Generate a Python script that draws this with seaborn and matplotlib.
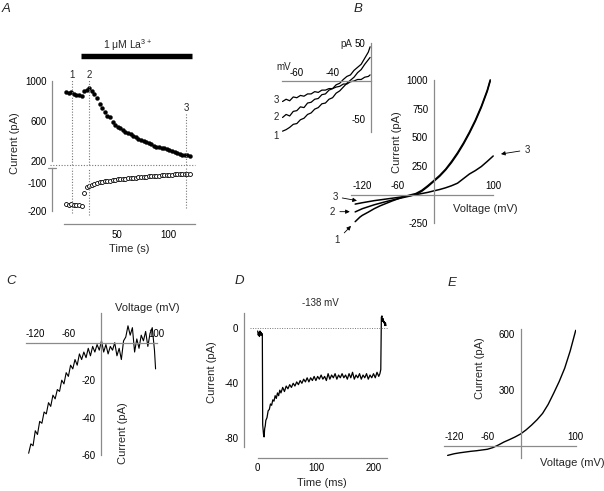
import matplotlib

matplotlib.use("Agg")
import matplotlib.pyplot as plt
import seaborn as sns

W, H = 604, 491
AXIS_GREY = "#8a8a8a"
DOT_GREY = "#777777"

# ---------------- panel A: current at +100 / -120 mV vs time
A_TIME = [1, 3.5, 6, 8.5, 11, 13.5, 16, 18.5, 21, 23.5, 26, 28.5, 31, 33.5, 36, 38.5,
          41, 43.5, 46, 48.5, 51, 53.5, 56, 58.5, 61, 63.5, 66, 68.5, 71, 73.5, 76,
          78.5, 81, 83.5, 86, 88.5, 91, 93.5, 96, 98.5, 101, 103.5, 106, 108.5, 111,
          113.5, 116, 118.5, 121]
A_OUTWARD = [890, 880, 895, 875, 860, 865, 855, 905, 915, 930, 900, 870, 830, 770, 730,
             690, 650, 645, 590, 565, 545, 535, 510, 490, 485, 470, 455, 440, 420, 410,
             400, 390, 380, 370, 355, 345, 340, 330, 330, 325, 310, 300, 290, 280, 275,
             265, 265, 260, 250]
A_INWARD = [-176, -178, -177, -180, -178, -179, -183, -135, -114, -110, -106, -103, -100,
            -98, -96, -94, -93, -92, -91, -89, -88, -86, -87, -85, -84, -84, -83, -82,
            -80, -80, -79, -78, -77, -77, -75, -74, -74, -73, -73, -72, -71, -72, -70,
            -70, -69, -70, -68, -69, -68]
A_MARKS = [6.5, 23.2, 117.0]
A_MARK_LABELS = ["1", "2", "3"]
LA_START, LA_END = 15.5, 123.2

# ---------------- panel B: I-V curves 1, 2, 3
B1_V = [-132, -128, -124, -120, -110, -100, -90, -80, -70, -60, -50, -40, -30, -20, -10,
        0, 10, 20, 30, 40, 50, 60, 70, 80, 90, 95]
B1_I = [-235, -215, -195, -180, -152, -122, -97, -76, -55, -36, -17, -3, 10, 38, 78,
        122, 168, 222, 290, 365, 450, 545, 650, 770, 910, 1000]
B2_V = [-132, -120, -100, -80, -60, -40, -30, -20, -10, 0, 10, 20, 30, 40, 50, 60, 70,
        80, 90, 95]
B2_I = [-150, -122, -88, -60, -35, -12, 2, 30, 70, 115, 160, 215, 280, 355, 440, 535,
        640, 760, 900, 990]
B3_V = [-132, -120, -100, -80, -60, -40, -30, -20, -10, 0, 10, 20, 30, 40, 50, 60, 70,
        80, 90, 100]
B3_I = [-82, -70, -52, -38, -24, -8, 0, 10, 20, 33, 45, 60, 78, 100, 140, 180, 210,
        245, 290, 337]

# inset of B: -68 to -19 mV
INSET_V = [-68, -66, -64, -62, -60, -58, -56, -54, -52, -50, -48, -46, -44, -42, -40,
           -38, -36, -34, -32, -30, -28, -26, -24, -22, -20, -19]
INSET_I1 = [-66, -64, -61, -57, -56, -51, -49, -44, -42, -37, -35, -30, -29, -24, -22,
            -16, -13, -8, -3, 1, 5, 11, 15, 22, 28, 31]
INSET_I2 = [-48, -44, -46, -40, -39, -34, -35, -29, -28, -24, -23, -18, -17, -12, -10,
            -5, -3, 2, 6, 8, 14, 18, 22, 30, 38, 45]
INSET_I3 = [-27, -24, -26, -21, -22, -19, -20, -17, -17, -14, -15, -12, -12, -10, -10,
            -8, -7, -4, -4, -1, 0, 2, 2, 5, 6, 8]

# ---------------- panel C: La-sensitive difference current
C_V = [-132, -128, -124, -120, -116, -112, -108, -104, -100, -96, -92, -88, -84, -80,
       -76, -72, -68, -64, -60, -56, -52, -48, -44, -40, -36, -32, -28, -24, -20, -16,
       -12, -8, -4, 0, 4, 8, 12, 16, 20, 24, 28, 32, 36, 40, 44, 48, 52, 56, 60, 64, 68,
       72, 76, 80, 84, 88, 92, 96, 98]
C_I = [-59, -54, -55, -47, -49, -42, -43, -37, -38, -32, -34, -28, -30, -25, -26, -20,
       -22, -16, -18, -12, -14, -9, -12, -6, -9, -5, -8, -3, -7, -2, -5, -1, -4, 1, -5,
       -1, -6, -2, -4, 0, -7, -3, -9, 1, 3, 9, 4, 8, -5, 2, -3, 4, 1, 6, -2, 5, 8, -4, -14]

# ---------------- panel D: current at -138 mV
D_T = [0, 1, 2, 3, 4, 5, 6, 7, 8, 8.6, 10, 11, 12, 13, 14, 16, 18, 20, 22, 24, 26, 28,
       30, 32, 34, 36, 38, 40, 43, 46, 49, 52, 55, 58, 61, 64, 67, 70, 73, 76, 79, 82,
       85, 88, 91, 94, 97, 100, 103, 106, 109, 112, 115, 118, 121, 124, 127, 130, 133,
       136, 139, 142, 145, 148, 151, 154, 157, 160, 163, 166, 169, 172, 175, 178, 181,
       184, 187, 190, 193, 196, 199, 202, 205, 208, 210, 211.5, 212.5, 213.5, 214.5,
       215.5, 216.5, 217.5, 218.5, 219.5, 220.5]
D_I = [-2, -5, -3, -6, -2, -5, -3, -5, -4, -70, -77, -79, -73, -71, -67, -65, -60, -59,
       -55, -56, -52, -53, -49, -51, -47, -49, -45, -47, -43, -46, -42, -44, -41, -43,
       -40, -42, -39, -41, -38, -40, -37, -39, -36, -39, -36, -38, -35, -38, -35, -37,
       -34, -37, -35, -38, -33, -37, -34, -36, -33, -37, -34, -36, -33, -36, -34, -37,
       -33, -36, -32, -37, -34, -36, -33, -37, -34, -36, -33, -37, -34, -36, -33, -36,
       -32, -35, -33, -30, 8, 9, 5, 7, 4, 5, 2, 4, 2]

# ---------------- panel E: I-V
E_V = [-132, -120, -110, -100, -90, -80, -70, -60, -50, -40, -30, -20, -10, 0, 10, 20,
       30, 40, 50, 60, 70, 80, 90, 100]
E_I = [-52, -43, -38, -34, -30, -27, -23, -19, -10, 4, 20, 33, 47, 63, 85, 111, 140,
       174, 222, 282, 345, 417, 510, 621]


def px_axes(fig, x0, y0, x1, y1):
    return fig.add_axes([x0 / W, 1 - y1 / H, (x1 - x0) / W, (y1 - y0) / H])


def px_text(fig, x, y, s, **kw):
    kw.setdefault("ha", "center")
    kw.setdefault("va", "center")
    kw.setdefault("fontsize", 8)
    fig.text(x / W, 1 - y / H, s, **kw)


def base_style(ax):
    ax.set_facecolor("none")
    for side in ("top", "right"):
        ax.spines[side].set_visible(False)
    for side in ("left", "bottom"):
        ax.spines[side].set_color(AXIS_GREY)
        ax.spines[side].set_linewidth(0.9)
    ax.tick_params(colors=AXIS_GREY, labelcolor="black", labelsize=7,
                   length=2.5, width=0.8, direction="out", pad=1.5)
    ax.set_xlabel("")
    ax.set_ylabel("")


def zero_axes(ax, xlim, ylim, xbounds, ybounds, xticks, yticks, xpad=-10):
    base_style(ax)
    ax.set_xlim(*xlim)
    ax.set_ylim(*ylim)
    ax.spines["left"].set_position(("data", 0))
    ax.spines["bottom"].set_position(("data", 0))
    ax.spines["bottom"].set_bounds(*xbounds)
    ax.spines["left"].set_bounds(*ybounds)
    ax.set_xticks(xticks)
    ax.set_yticks(yticks)
    ax.tick_params(axis="x", direction="in", pad=xpad)


def trace(ax, x, y, lw=1.0):
    sns.lineplot(x=x, y=y, ax=ax, color="black", linewidth=lw, sort=False,
                 estimator=None)


def main():
    sns.set_theme(style="white")
    plt.rcParams["font.family"] = ["Liberation Sans", "DejaVu Sans"]
    plt.rcParams["mathtext.default"] = "regular"
    plt.rcParams["axes.unicode_minus"] = False

    fig = plt.figure(figsize=(W / 100, H / 100), dpi=100)

    # ---------- A (broken y axis)
    ax_up = px_axes(fig, 52, 77, 195, 165)
    ax_lo = px_axes(fig, 52, 168, 195, 215)
    for ax in (ax_up, ax_lo):
        base_style(ax)
        ax.set_xlim(-12.6, 125.8)
    ax_up.set_ylim(160, 1040)
    ax_lo.set_ylim(-215, -47)
    sns.scatterplot(x=A_TIME, y=A_OUTWARD, ax=ax_up, color="black", s=8,
                    edgecolor="black", linewidth=0.3, clip_on=False)
    sns.scatterplot(x=A_TIME, y=A_INWARD, ax=ax_lo, color="white", s=8,
                    edgecolor="black", linewidth=0.6, clip_on=False)
    ax_up.spines["bottom"].set_visible(False)
    ax_up.tick_params(axis="x", bottom=False, labelbottom=False)
    ax_up.spines["left"].set_bounds(200, 1000)
    ax_up.set_yticks([200, 600, 1000])
    ax_lo.spines["left"].set_bounds(-200, -48)
    ax_lo.set_yticks([-100, -200])
    ax_lo.spines["bottom"].set_position(("outward", 6.7))
    ax_lo.spines["bottom"].set_bounds(-1, 125.8)
    ax_lo.set_xticks([50, 100])
    ax_lo.plot([-0.025, 0.025], [-48, -48], transform=ax_lo.get_yaxis_transform(),
               color=AXIS_GREY, lw=0.9, clip_on=False)

    dots = dict(color=DOT_GREY, lw=0.8, ls=(0, (1, 1.5)))
    tops = [1010, 1010, 680]
    bottoms = [-207, -215, -190]
    for t, lab, top, bot in zip(A_MARKS, A_MARK_LABELS, tops, bottoms):
        ax_up.plot([t, t], [160, top], clip_on=False, **dots)
        ax_lo.plot([t, t], [bot, -47], clip_on=False, **dots)
        ax_up.text(t, top + 50, lab, ha="center", va="center", fontsize=7)
    ax_up.plot([-0.015, 1.0], [163, 163], transform=ax_up.get_yaxis_transform(),
               clip_on=False, **dots)
    ax_up.plot([LA_START, LA_END], [1250, 1250], color="black", lw=3.9,
               solid_capstyle="butt", clip_on=False)
    ax_up.text((LA_START + LA_END) / 2 - 9, 1360, "1 μM La$^{3+}$", ha="center",
               va="center", fontsize=7.5)
    px_text(fig, 15, 143, "Current (pA)", rotation=90)
    px_text(fig, 129, 249, "Time (s)")

    # ---------- B main
    axb = px_axes(fig, 351, 78, 495, 225)
    trace(axb, B1_V, B1_I, lw=1.1)
    trace(axb, B2_V, B2_I, lw=1.1)
    trace(axb, B3_V, B3_I, lw=1.1)
    zero_axes(axb, (-139, 103), (-264, 1016), (-139, 100), (-250, 1000),
              [-120, -60, 100], [-250, 250, 500, 750, 1000])
    arrow = dict(arrowstyle="-|>", color="black", lw=0.6, mutation_scale=6,
                 shrinkA=1, shrinkB=0)
    axb.annotate("3", xy=(113, 354), xytext=(157, 390), fontsize=7, ha="center",
                 va="center", arrowprops=arrow, annotation_clip=False)
    axb.annotate("3", xy=(-129, -52), xytext=(-166, -17), fontsize=7, ha="center",
                 va="center", arrowprops=arrow, annotation_clip=False)
    axb.annotate("2", xy=(-141, -148), xytext=(-170, -148), fontsize=7, ha="center",
                 va="center", arrowprops=arrow, annotation_clip=False)
    axb.annotate("1", xy=(-139, -272), xytext=(-162, -395), fontsize=7, ha="center",
                 va="center", arrowprops=arrow, annotation_clip=False)
    px_text(fig, 397, 142, "Current (pA)", rotation=90)
    px_text(fig, 485, 209, "Voltage (mV)")

    # ---------- B inset
    axi = px_axes(fig, 282, 42, 371, 132)
    trace(axi, INSET_V, INSET_I1, lw=0.9)
    trace(axi, INSET_V, INSET_I2, lw=0.9)
    trace(axi, INSET_V, INSET_I3, lw=0.9)
    base_style(axi)
    axi.set_xlim(-68.3, -18.5)
    axi.set_ylim(-67.1, 51.3)
    axi.spines["left"].set_position(("axes", 1.0))
    axi.spines["bottom"].set_position(("data", 0))
    axi.spines["left"].set_bounds(-67, 50)
    axi.set_xticks([-60, -40])
    axi.set_yticks([-50, 50])
    axi.tick_params(axis="x", direction="in", pad=-9)
    for lab, y in zip(["3", "2", "1"], [-25, -47, -72]):
        axi.text(-71.5, y, lab, ha="center", va="center", fontsize=7)
    px_text(fig, 284, 67, "mV", fontsize=7)
    px_text(fig, 346, 44, "pA", fontsize=7)

    # ---------- C
    axc = px_axes(fig, 26, 311, 158, 457)
    trace(axc, C_V, C_I, lw=0.8)
    zero_axes(axc, (-136.8, 102.4), (-61, 16.9), (-137, 100), (-60, 16),
              [-120, -60, 100], [-60, -40, -20])
    px_text(fig, 147, 308, "Voltage (mV)")
    px_text(fig, 123, 433, "Current (pA)", rotation=90)

    # ---------- D
    axd = px_axes(fig, 244, 313, 388, 457.7)
    trace(axd, D_T, D_I, lw=0.9)
    base_style(axd)
    axd.set_xlim(-23.5, 223.9)
    axd.set_ylim(-94.1, 11.1)
    axd.spines["left"].set_bounds(-86.3, 11.1)
    axd.spines["bottom"].set_bounds(0, 222)
    axd.set_xticks([0, 100, 200])
    axd.set_yticks([-80, -40, 0])
    axd.axhline(0, xmin=0.04, xmax=1.0, color=DOT_GREY, lw=0.7, ls=(0, (1, 1.5)))
    px_text(fig, 320, 303, "-138 mV", fontsize=7)
    px_text(fig, 322, 483, "Time (ms)")
    px_text(fig, 212, 372, "Current (pA)", rotation=90)

    # ---------- E
    axe = px_axes(fig, 444, 329, 576, 458)
    trace(axe, E_V, E_I, lw=1.0)
    zero_axes(axe, (-138.6, 100.5), (-66, 628), (-138, 100), (-66, 628),
              [-120, -60, 100], [300, 600])
    px_text(fig, 480, 368, "Current (pA)", rotation=90)
    px_text(fig, 572, 463, "Voltage (mV)")

    # panel letters
    for lab, x, y in [("A", 6, 9), ("B", 358, 9), ("C", 11, 281), ("D", 239, 281),
                      ("E", 452, 283)]:
        px_text(fig, x, y, lab, fontsize=9.5, style="italic")

    fig.savefig("out.png", dpi=100)
    plt.close(fig)


if __name__ == "__main__":
    main()
